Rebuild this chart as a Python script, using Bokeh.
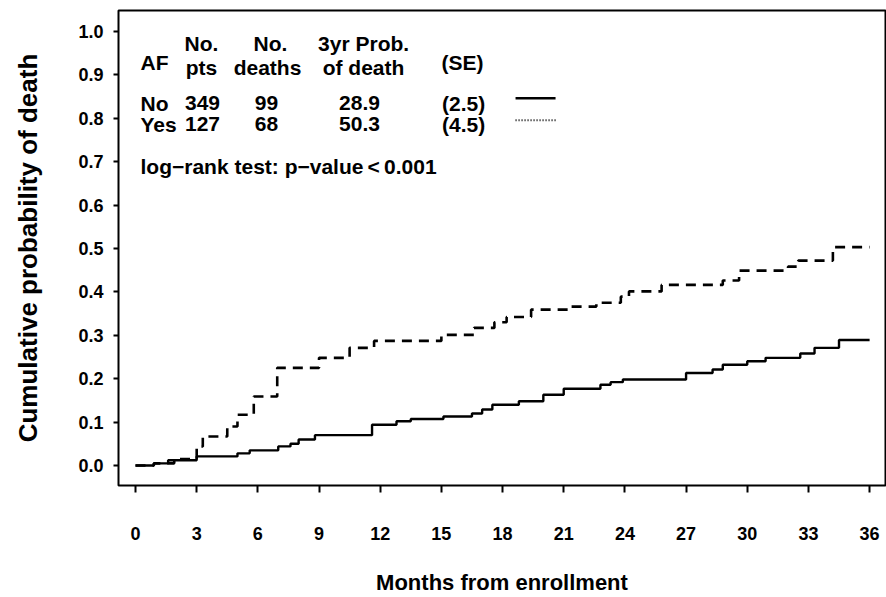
from bokeh.plotting import figure
from bokeh.models import Range1d, FixedTicker, Label
from bokeh.embed import file_html
from bokeh.resources import INLINE

# Cumulative probability of death by atrial fibrillation (AF) status
no_af_months = [0, 0.9, 1.6, 3.0, 5.0, 5.6, 7.0, 7.6, 8.0, 8.8, 11.6, 12.8, 13.5,
                15.1, 16.5, 17.0, 17.5, 18.8, 20.0, 21.0, 22.8, 23.3, 23.9, 27.0,
                28.3, 28.8, 30.0, 30.9, 32.6, 33.3, 34.5, 36.0]
no_af_prob = [0.0, 0.005, 0.012, 0.021, 0.028, 0.035, 0.044, 0.050, 0.060, 0.070,
              0.094, 0.102, 0.107, 0.113, 0.120, 0.129, 0.140, 0.148, 0.163, 0.177,
              0.186, 0.192, 0.198, 0.213, 0.221, 0.232, 0.240, 0.248, 0.258, 0.271,
              0.289, 0.289]

af_months = [0, 0.9, 1.9, 3.0, 3.3, 4.5, 5.0, 5.8, 6.95, 9.0, 10.5, 11.7, 15.0,
             16.6, 17.6, 18.2, 19.4, 21.2, 22.6, 23.8, 24.2, 25.8, 28.8, 29.6,
             32.0, 32.5, 34.2, 36.0]
af_prob = [0.0, 0.005, 0.015, 0.044, 0.067, 0.090, 0.117, 0.159, 0.225, 0.248,
           0.271, 0.287, 0.301, 0.317, 0.330, 0.342, 0.359, 0.366, 0.375, 0.389,
           0.401, 0.416, 0.426, 0.449, 0.458, 0.472, 0.503, 0.503]

# Summary table
groups = ["No", "Yes"]
n_pts = [349, 127]
n_deaths = [99, 68]
prob_3yr = [28.9, 50.3]
prob_se = [2.5, 4.5]
logrank_text = "log\u2212rank  test:  p\u2212value\u2009<\u20090.001"

x_ticks = list(range(0, 37, 3))
y_ticks = [0.0, 0.1, 0.2, 0.3, 0.4, 0.5, 0.6, 0.7, 0.8, 0.9, 1.0]
y_tick_labels = ["0.0", "0.1", "0.2", "0.3", "0.4", "0.5", "0.6", "0.7", "0.8", "0.9", "1.0"]

FONT = "Liberation Sans"

p = figure(width=886, height=597, output_backend="svg", toolbar_location=None,
           x_range=Range1d(-0.834, 36.78), y_range=Range1d(-0.046, 1.048),
           min_border_left=118, min_border_right=1, min_border_top=10,
           min_border_bottom=111)
p.grid.visible = False
p.outline_line_color = "black"
p.outline_line_width = 2
p.background_fill_color = "white"
p.border_fill_color = "white"

for ax in (p.xaxis[0], p.yaxis[0]):
    ax.axis_line_color = None
    ax.major_tick_line_color = "black"
    ax.major_tick_line_width = 2
    ax.major_tick_in = 0
    ax.minor_tick_line_color = None
    ax.major_label_text_font = FONT
    ax.major_label_text_font_style = "bold"
    ax.major_label_text_font_size = "18px"
    ax.major_label_text_color = "black"
    ax.axis_label_text_font = FONT
    ax.axis_label_text_font_style = "bold"
    ax.axis_label_text_color = "black"

p.xaxis.ticker = FixedTicker(ticks=x_ticks)
p.xaxis.major_tick_out = 7
p.xaxis.major_label_standoff = 34
p.xaxis.axis_label = "Months from enrollment"
p.xaxis.axis_label_text_font_size = "22px"
p.xaxis.axis_label_standoff = 27

p.yaxis.ticker = FixedTicker(ticks=y_ticks)
p.yaxis.major_label_overrides = {t: s for t, s in zip(y_ticks, y_tick_labels)}
p.yaxis.major_tick_out = 5
p.yaxis.major_label_standoff = 10
p.yaxis.axis_label = "Cumulative probability of death"
p.yaxis.axis_label_text_font_size = "26px"
p.yaxis.axis_label_standoff = 32

p.step(no_af_months, no_af_prob, mode="after", line_color="black", line_width=2.4)
p.step(af_months, af_prob, mode="after", line_color="black", line_width=2.6,
       line_dash="10 7")


# Placement helpers for the summary table (pixel position -> data position)
def mx(px):
    return (px - 135) / 20.389


def my(py):
    return (466 - py) / 435


def add_text(text, px, py, align="center", size="21px"):
    p.add_layout(Label(x=mx(px), y=my(py), text=text, text_font=FONT,
                       text_font_style="bold", text_font_size=size,
                       text_align=align, text_baseline="middle",
                       text_color="black"))


add_text("AF", 140, 62, align="left")
add_text("No.", 201, 43)
add_text("pts", 201, 67)
add_text("No.", 270, 43)
add_text("deaths", 267, 67)
add_text("3yr  Prob.", 366, 43)
add_text("of death", 363, 67)
add_text("(SE)", 462, 62)

row_y = [103, 124]
for g, n, d, pr, se, ry in zip(groups, n_pts, n_deaths, prob_3yr, prob_se, row_y):
    add_text(g, 140, ry, align="left")
    add_text(str(n), 202, ry)
    add_text(str(d), 266, ry)
    add_text(f"{pr:.1f}", 359, ry)
    add_text(f"({se:.1f})", 463, ry)

p.line([mx(515), mx(555)], [my(98), my(98)], line_color="black", line_width=2.4)
p.line([mx(515), mx(555)], [my(120), my(120)], line_color="black", line_width=2,
       line_dash="1 2")

add_text(logrank_text, 140, 166, align="left")

open("out.html", "w").write(file_html(p, INLINE))
